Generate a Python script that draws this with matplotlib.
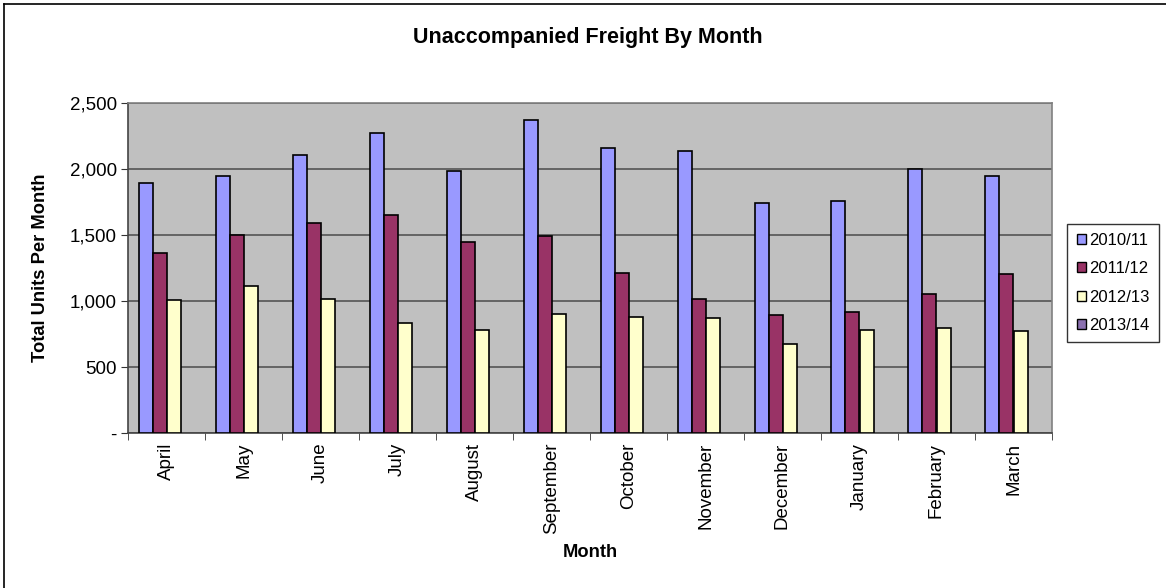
import numpy as np
import matplotlib.pyplot as plt
from matplotlib.lines import Line2D
from matplotlib.patches import Patch
from matplotlib.ticker import FuncFormatter

plt.rcParams['font.family'] = ['Liberation Sans', 'DejaVu Sans']

months = ['April', 'May', 'June', 'July', 'August', 'September',
          'October', 'November', 'December', 'January', 'February', 'March']
units_2010 = [1892, 1945, 2106, 2273, 1985, 2371, 2157, 2139, 1742, 1760, 1998, 1945]
units_2011 = [1366, 1498, 1591, 1652, 1449, 1495, 1212, 1018, 896, 919, 1055, 1207]
units_2012 = [1008, 1111, 1013, 833, 780, 899, 879, 871, 677, 780, 793, 775]
units_2013 = []  # no data yet for this year
series_names = ['2010/11', '2011/12', '2012/13', '2013/14']
colors = ['#9999FF', '#993366', '#FFFFCC', '#8B70B0']

fig = plt.figure(figsize=(11.66, 5.88), dpi=100)
ax = fig.add_axes([128 / 1166, 1 - 433 / 588, 924 / 1166, 330 / 588])
ax.set_facecolor('#C0C0C0')

x = np.arange(len(months))
w = 1 / 5.5  # 150% gap width, four series slots
for i, vals in enumerate([units_2010, units_2011, units_2012, units_2013]):
    if len(vals) == 0:
        continue
    ax.bar(x + (i - 1.5) * w, vals, width=w, color=colors[i],
           edgecolor='black', linewidth=1.2, zorder=3)

ax.set_xlim(-0.5, len(months) - 0.5)
ax.set_ylim(0, 2500)
ax.set_yticks(np.arange(0, 2501, 500))
ax.yaxis.set_major_formatter(FuncFormatter(lambda v, p: '-' if v == 0 else f'{int(v):,}'))
ax.grid(axis='y', color='#555555', linewidth=1.2, zorder=1)

ax.set_xticks(x)
ax.set_xticklabels(months, rotation=90, fontsize=13.5)
ax.set_xticks(np.arange(-0.5, len(months)), minor=True)
ax.tick_params(axis='x', which='major', length=0, pad=7)
ax.tick_params(axis='x', which='minor', length=5, color='#333333')
ax.tick_params(axis='y', length=5, labelsize=13.5, pad=3, color='#333333')

for side in ['top', 'right']:
    ax.spines[side].set_color('#808080')
    ax.spines[side].set_linewidth(1.2)
for side in ['left', 'bottom']:
    ax.spines[side].set_color('#444444')
    ax.spines[side].set_linewidth(1.2)

ax.set_xlabel('Month', fontsize=13.2, fontweight='bold', labelpad=7)
ax.set_ylabel('Total Units Per Month', fontsize=13.2, fontweight='bold', labelpad=15)
fig.text(588 / 1166, 1 - 38 / 588, 'Unaccompanied Freight By Month',
         ha='center', va='center', fontsize=15.5, fontweight='bold')

handles = [Patch(facecolor=c, edgecolor='black', linewidth=1) for c in colors]
leg = fig.legend(handles, series_names, loc='center', bbox_to_anchor=(1113 / 1166, 1 - 283 / 588),
                 fontsize=12, frameon=True, fancybox=False, edgecolor='black',
                 handlelength=0.55, handleheight=0.55, handletextpad=0.2,
                 labelspacing=0.8, borderpad=0.55, borderaxespad=0)
leg.get_frame().set_linewidth(1)

# outer chart border
fig.add_artist(Line2D([4 / 1166, 1], [1 - 4 / 588, 1 - 4 / 588], color='black', linewidth=1.2))
fig.add_artist(Line2D([4 / 1166, 4 / 1166], [0, 1 - 4 / 588], color='black', linewidth=1.2))

fig.savefig('out.png', dpi=100)
